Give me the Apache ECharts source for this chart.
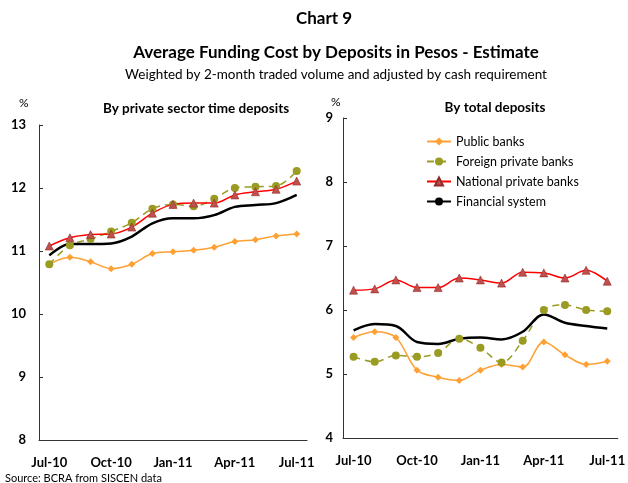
<!DOCTYPE html>
<html>
<head>
<meta charset="utf-8">
<script src="https://cdn.jsdelivr.net/npm/echarts@6/dist/echarts.min.js"></script>
<style>
  html, body { margin: 0; padding: 0; background: #fff; }
  #chart { width: 628px; height: 483px; }
</style>
</head>
<body>
<div id="chart"></div>
<script>
// months shown on both panels
const months = ['Jul-10', 'Aug-10', 'Sep-10', 'Oct-10', 'Nov-10', 'Dec-10', 'Jan-11',
  'Feb-11', 'Mar-11', 'Apr-11', 'May-11', 'Jun-11', 'Jul-11']

// left panel: private sector time deposits
const timePublic = [10.79, 10.90, 10.83, 10.72, 10.79, 10.96, 10.99, 11.01, 11.06, 11.15, 11.18, 11.24, 11.27]
const timeForeign = [10.79, 11.09, 11.19, 11.31, 11.45, 11.67, 11.74, 11.71, 11.83, 12.00, 12.02, 12.03, 12.27]
const timeNational = [11.08, 11.21, 11.26, 11.27, 11.38, 11.60, 11.74, 11.76, 11.76, 11.89, 11.94, 11.98, 12.11]
const timeSystem = [10.93, 11.11, 11.11, 11.12, 11.23, 11.44, 11.52, 11.52, 11.57, 11.70, 11.73, 11.76, 11.89]

// right panel: total deposits
const totPublic = [5.57, 5.66, 5.57, 5.06, 4.95, 4.90, 5.06, 5.15, 5.11, 5.50, 5.30, 5.15, 5.20]
const totForeign = [5.27, 5.19, 5.29, 5.27, 5.33, 5.55, 5.41, 5.18, 5.52, 6.00, 6.08, 6.00, 5.98]
const totNational = [6.31, 6.33, 6.47, 6.35, 6.35, 6.50, 6.47, 6.42, 6.59, 6.58, 6.50, 6.62, 6.45]
const totSystem = [5.68, 5.78, 5.75, 5.50, 5.47, 5.55, 5.57, 5.54, 5.66, 5.93, 5.80, 5.75, 5.71]

const FONT = 'Lato'
const chart = echarts.init(document.getElementById('chart'))

const xAxisBase = (gridIndex) => ({
  type: 'category',
  gridIndex,
  data: months,
  boundaryGap: true,
  axisLine: { lineStyle: { color: '#333', width: 1 } },
  axisTick: { inside: true, length: 4, interval: (i) => i % 3 === 0 && i > 0, lineStyle: { color: '#333' } },
  axisLabel: {
    interval: 2, margin: 16, color: '#000', fontFamily: FONT, fontWeight: 'bold', fontSize: 13
  },
  splitLine: { show: false }
})

const yAxisBase = (gridIndex, min, max, margin) => ({
  type: 'value',
  gridIndex,
  min, max, interval: 1,
  axisLine: { show: true, lineStyle: { color: '#333', width: 1 } },
  axisTick: { show: true, inside: true, length: 4, lineStyle: { color: '#333' } },
  axisLabel: { margin, color: '#000', fontFamily: FONT, fontWeight: 'bold', fontSize: 13 },
  splitLine: { show: false }
})

const mkSeries = (kind, data, idx) => {
  const common = { type: 'line', data, xAxisIndex: idx, yAxisIndex: idx, smooth: 0.35, z: 3 }
  if (kind === 'public') {
    return { ...common, name: 'Public banks', symbol: 'diamond', symbolSize: 7,
      itemStyle: { color: '#FFA033' }, lineStyle: { color: '#FFA033', width: 1.5 } }
  }
  if (kind === 'foreign') {
    return { ...common, name: 'Foreign private banks', symbol: 'circle', symbolSize: 8,
      itemStyle: { color: '#9A9B22' }, lineStyle: { color: '#9A9B22', width: 1.5, type: [7, 5] } }
  }
  if (kind === 'national') {
    return { ...common, name: 'National private banks', symbol: 'triangle', symbolSize: 8,
      itemStyle: { color: '#C0504D', borderColor: '#8E2B2B', borderWidth: 0.6 },
      lineStyle: { color: '#FF0000', width: 1.5 } }
  }
  return { ...common, name: 'Financial system', symbol: 'none',
    itemStyle: { color: '#000' }, lineStyle: { color: '#000', width: 2.5 } }
}

const option = {
  animation: false,
  backgroundColor: '#fff',
  textStyle: { fontFamily: FONT },
  title: [
    { text: 'Chart 9', left: 319, textAlign: 'center', top: 5,
      textStyle: { fontFamily: FONT, fontWeight: 'bold', fontSize: 17, color: '#000' } },
    { text: 'Average Funding Cost by Deposits in Pesos - Estimate', left: 331, textAlign: 'center', top: 39,
      textStyle: { fontFamily: FONT, fontWeight: 'bold', fontSize: 17, color: '#000' } },
    { text: 'Weighted by 2-month traded volume and adjusted by cash requirement', left: 331, textAlign: 'center', top: 63,
      textStyle: { fontFamily: FONT, fontWeight: 'normal', fontSize: 13.5, color: '#000' } },
    { text: 'By private sector time deposits', left: 191, textAlign: 'center', top: 97,
      textStyle: { fontFamily: FONT, fontWeight: 'bold', fontSize: 13.5, color: '#000' } },
    { text: 'By total deposits', left: 490, textAlign: 'center', top: 96,
      textStyle: { fontFamily: FONT, fontWeight: 'bold', fontSize: 13.5, color: '#000' } },
    { text: '%', left: 14, top: 92, textStyle: { fontFamily: FONT, fontWeight: 'normal', fontSize: 12, color: '#000' } },
    { text: '%', left: 326, top: 91, textStyle: { fontFamily: FONT, fontWeight: 'normal', fontSize: 12, color: '#000' } },
    { text: 'Source: BCRA from SISCEN data', left: 0, top: 468,
      textStyle: { fontFamily: FONT, fontWeight: 'normal', fontSize: 11, color: '#000' } }
  ],
  legend: {
    orient: 'vertical',
    left: 421,
    top: 130,
    itemWidth: 24,
    itemHeight: 10,
    itemGap: 7,
    textStyle: { fontFamily: FONT, fontSize: 12.5, color: '#000' },
    data: ['Public banks', 'Foreign private banks', 'National private banks', 'Financial system']
  },
  grid: [
    { left: 39, top: 125, width: 268, height: 315 },
    { left: 343, top: 118, width: 280, height: 320 }
  ],
  xAxis: [xAxisBase(0), xAxisBase(1)],
  yAxis: [yAxisBase(0, 8, 13, 13), yAxisBase(1, 4, 9, 10)],
  series: [
    mkSeries('public', timePublic, 0),
    mkSeries('foreign', timeForeign, 0),
    mkSeries('national', timeNational, 0),
    mkSeries('system', timeSystem, 0),
    mkSeries('public', totPublic, 1),
    mkSeries('foreign', totForeign, 1),
    mkSeries('national', totNational, 1),
    mkSeries('system', totSystem, 1)
  ]
}

chart.setOption(option)
</script>
</body>
</html>
